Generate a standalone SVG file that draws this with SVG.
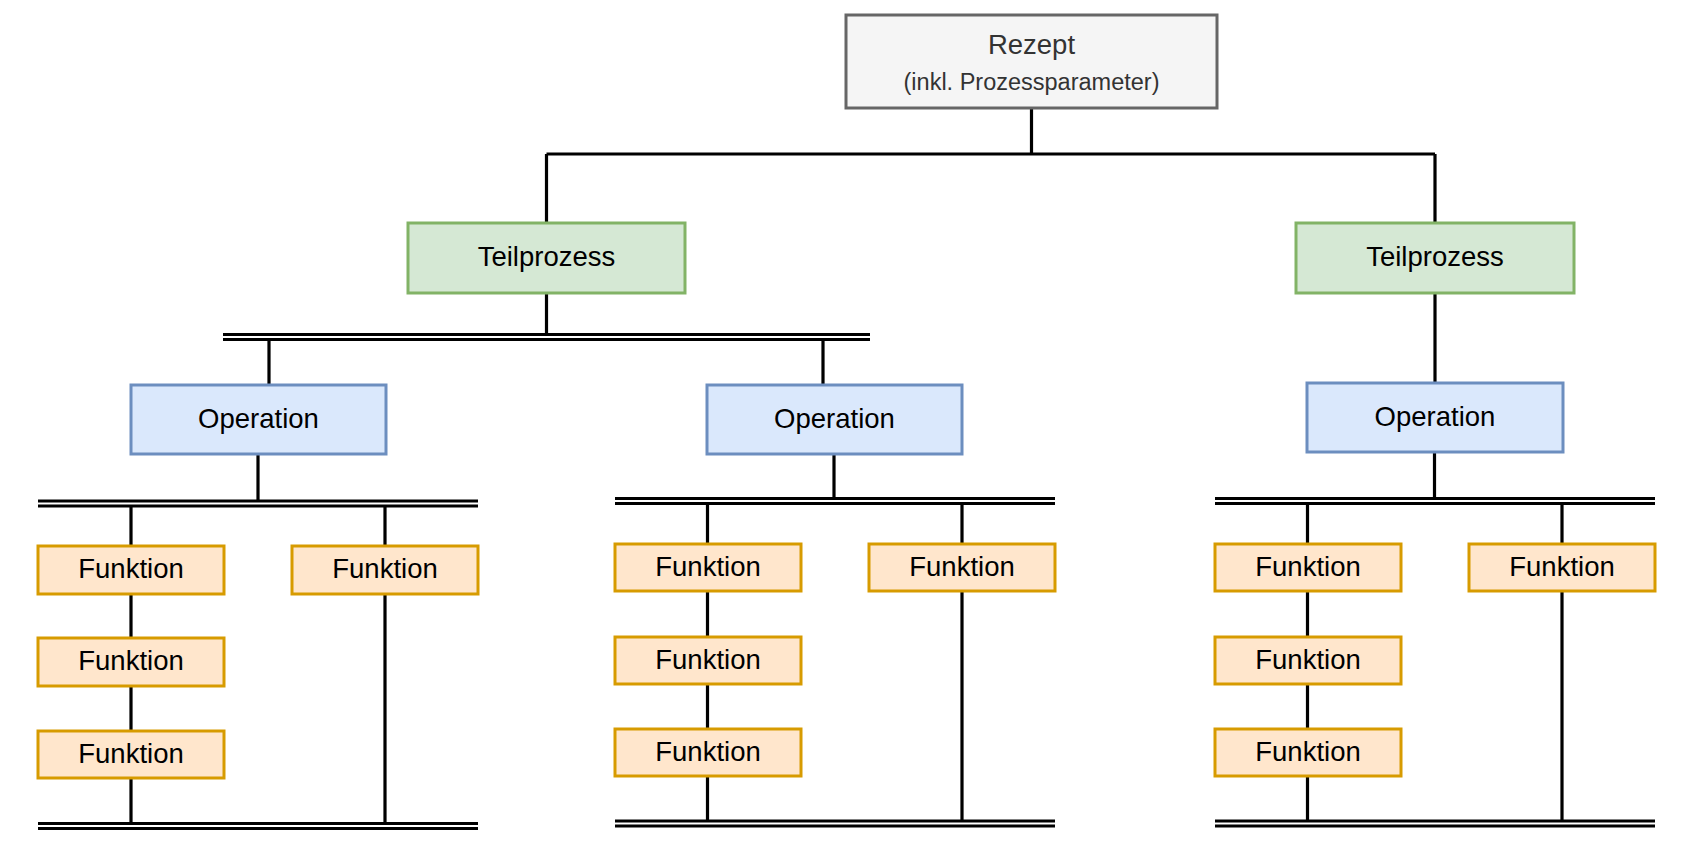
<svg xmlns="http://www.w3.org/2000/svg" width="1701" height="841" viewBox="0 0 1701 841">
<style>
  text { font-family: "Liberation Sans", Arial, sans-serif; font-size: 27.5px; text-anchor: middle; fill: #000000; }
  .ln { stroke: #000000; stroke-width: 3.2; fill: none; }
  .rez rect { fill: #f5f5f5; stroke: #666666; stroke-width: 3; }
  .rez text { fill: #333333; }
  .rez .sub { font-size: 23.5px; }
  .tp rect { fill: #d5e8d4; stroke: #82b366; stroke-width: 3; }
  .op rect { fill: #dae8fc; stroke: #6c8ebf; stroke-width: 3; }
  .fk rect { fill: #ffe6cc; stroke: #d79b00; stroke-width: 3; }
</style>
<rect x="0" y="0" width="1701" height="841" fill="#ffffff"/>

<g id="connectors">
  <!-- Rezept to Teilprozesse -->
  <path class="ln" d="M1031.5 108 V154 M546.5 154 H1435 M546.5 154 V223 M1435 154 V223"/>
  <!-- Left Teilprozess -->
  <path class="ln" d="M546.5 293 V334.5"/>
  <path class="ln" d="M223 334.5 H870 M223 339.5 H870"/>
  <path class="ln" d="M269 339.5 V385 M823 339.5 V385"/>
  <!-- Right Teilprozess -->
  <path class="ln" d="M1435 293 V383"/>
  <!-- Left operation -->
  <path class="ln" d="M258 454 V501"/>
  <path class="ln" d="M38 501 H478 M38 506 H478"/>
  <path class="ln" d="M131 506 V823.5 M385 506 V823.5"/>
  <path class="ln" d="M38 823.5 H478 M38 828.5 H478"/>
  <!-- Middle operation -->
  <path class="ln" d="M834 454 V498.5"/>
  <path class="ln" d="M615 498.5 H1055 M615 503.5 H1055"/>
  <path class="ln" d="M707.5 503.5 V821 M962 503.5 V821"/>
  <path class="ln" d="M615 821 H1055 M615 826 H1055"/>
  <!-- Right operation -->
  <path class="ln" d="M1434.5 452 V498.5"/>
  <path class="ln" d="M1215 498.5 H1655 M1215 503.5 H1655"/>
  <path class="ln" d="M1307.5 503.5 V821 M1562 503.5 V821"/>
  <path class="ln" d="M1215 821 H1655 M1215 826 H1655"/>
</g>

<g id="rezept" class="rez">
  <rect x="846" y="15" width="371" height="93"/>
  <text x="1031.5" y="54">Rezept</text>
  <text class="sub" x="1031.5" y="90">(inkl. Prozessparameter)</text>
</g>

<g id="teilprozess-1" class="tp">
  <rect x="408" y="223" width="277" height="70"/>
  <text x="546.5" y="266">Teilprozess</text>
</g>
<g id="teilprozess-2" class="tp">
  <rect x="1296" y="223" width="278" height="70"/>
  <text x="1435" y="266">Teilprozess</text>
</g>

<g id="operation-1" class="op">
  <rect x="131" y="385" width="255" height="69"/>
  <text x="258.5" y="428">Operation</text>
</g>
<g id="operation-2" class="op">
  <rect x="707" y="385" width="255" height="69"/>
  <text x="834.5" y="428">Operation</text>
</g>
<g id="operation-3" class="op">
  <rect x="1307" y="383" width="256" height="69"/>
  <text x="1435" y="426">Operation</text>
</g>

<g id="funktion-1-1" class="fk"><rect x="38" y="546" width="186" height="48"/><text x="131" y="578">Funktion</text></g>
<g id="funktion-1-2" class="fk"><rect x="38" y="638" width="186" height="48"/><text x="131" y="670">Funktion</text></g>
<g id="funktion-1-3" class="fk"><rect x="38" y="731" width="186" height="47"/><text x="131" y="763">Funktion</text></g>
<g id="funktion-1-4" class="fk"><rect x="292" y="546" width="186" height="48"/><text x="385" y="578">Funktion</text></g>

<g id="funktion-2-1" class="fk"><rect x="615" y="544" width="186" height="47"/><text x="708" y="576">Funktion</text></g>
<g id="funktion-2-2" class="fk"><rect x="615" y="637" width="186" height="47"/><text x="708" y="669">Funktion</text></g>
<g id="funktion-2-3" class="fk"><rect x="615" y="729" width="186" height="47"/><text x="708" y="761">Funktion</text></g>
<g id="funktion-2-4" class="fk"><rect x="869" y="544" width="186" height="47"/><text x="962" y="576">Funktion</text></g>

<g id="funktion-3-1" class="fk"><rect x="1215" y="544" width="186" height="47"/><text x="1308" y="576">Funktion</text></g>
<g id="funktion-3-2" class="fk"><rect x="1215" y="637" width="186" height="47"/><text x="1308" y="669">Funktion</text></g>
<g id="funktion-3-3" class="fk"><rect x="1215" y="729" width="186" height="47"/><text x="1308" y="761">Funktion</text></g>
<g id="funktion-3-4" class="fk"><rect x="1469" y="544" width="186" height="47"/><text x="1562" y="576">Funktion</text></g>
</svg>
